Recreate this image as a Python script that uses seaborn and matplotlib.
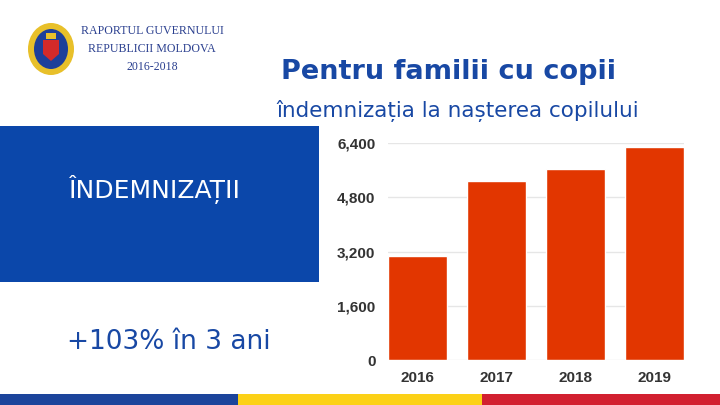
import matplotlib
matplotlib.use("Agg")
import matplotlib.pyplot as plt
import matplotlib.patches as mpatches
import seaborn as sns
import pandas as pd

# ---- data ----
years = ["2016", "2017", "2018", "2019"]
values = [3080, 5290, 5630, 6280]
yticks = [0, 1600, 3200, 4800, 6400]
ytick_labels = ["0", "1,600", "3,200", "4,800", "6,400"]

title = "Pentru familii cu copii"
subtitle = "îndemnizația la nașterea copilului"
box_text = "ÎNDEMNIZAȚII"
growth_text = "+103% în 3 ani"
header_lines = ["RAPORTUL GUVERNULUI", "REPUBLICII MOLDOVA", "2016-2018"]

BLUE = "#0b47aa"
TEXT_BLUE = "#1848a4"
BAR = "#e23600"

sns.set_theme(style="white")
plt.rcParams['font.family'] = ['DejaVu Sans']

fig = plt.figure(figsize=(7.2, 4.05), dpi=100)
fig.patch.set_facecolor("white")

W, H = 720, 405
def fx(x): return x / W
def fy(y): return 1 - y / H

# background decorations
bg = fig.add_axes([0, 0, 1, 1], zorder=0)
bg.set_xlim(0, W); bg.set_ylim(H, 0); bg.axis("off")
bg.add_patch(mpatches.Rectangle((0, 126), 319, 156, color=BLUE, lw=0))
bg.add_patch(mpatches.Rectangle((0, 394), 238, 11, color="#1c449b", lw=0))
bg.add_patch(mpatches.Rectangle((238, 394), 244, 11, color="#fcd116", lw=0))
bg.add_patch(mpatches.Rectangle((482, 394), 238, 11, color="#d22030", lw=0))
# emblem
bg.add_patch(mpatches.Ellipse((51, 49), 46, 52, color="#e8c02a", lw=0))
bg.add_patch(mpatches.Ellipse((51, 49), 34, 40, color="#1d3f9a", lw=0))
bg.add_patch(mpatches.Polygon([(43, 40), (59, 40), (59, 54), (51, 61), (43, 54)], color="#d42a2a", lw=0))
bg.add_patch(mpatches.Rectangle((46, 33), 10, 6, color="#e8c02a", lw=0))

for i, line in enumerate(header_lines):
    bg.text(152, 31 + i * 18, line, ha="center", va="center", fontsize=8.6,
            color="#2a3f8f", family=["Liberation Serif", "DejaVu Serif"])

bg.text(448.5, 72, title, ha="center", va="center", fontsize=19.5,
        fontweight="bold", color=TEXT_BLUE)
bg.text(458, 111, subtitle, ha="center", va="center", fontsize=15.5,
        color=TEXT_BLUE)
bg.text(155, 189, box_text, ha="center", va="center", fontsize=18,
        color="white")
bg.text(169, 342, growth_text, ha="center", va="center", fontsize=19,
        color=TEXT_BLUE)

# chart
ax = fig.add_axes([fx(388), fy(360), fx(684) - fx(388), fy(143.3) - fy(360)], zorder=1)
ax.patch.set_alpha(0)
df = pd.DataFrame({"year": years, "value": values})
sns.barplot(data=df, x="year", y="value", color=BAR, saturation=1, width=0.75, ax=ax)
ax.set_xlim(-0.375, 3.375)
ax.set_ylim(0, 6400)
ax.set_yticks(yticks)
ax.set_yticklabels(ytick_labels)
ax.yaxis.grid(True, color="#e6e6e6", lw=1)
ax.set_axisbelow(True)
for s in ax.spines.values():
    s.set_visible(False)
ax.set_xlabel(""); ax.set_ylabel("")
ax.tick_params(axis="both", length=0, colors="#333333")
ax.tick_params(axis="y", pad=9)
ax.tick_params(axis="x", pad=8)
for lab in ax.get_yticklabels() + ax.get_xticklabels():
    lab.set_fontfamily(["Liberation Sans", "DejaVu Sans"])
    lab.set_fontweight("bold")
    lab.set_fontsize(11)
    lab.set_color("#333333")

fig.savefig("out.png", dpi=100, facecolor="white")
